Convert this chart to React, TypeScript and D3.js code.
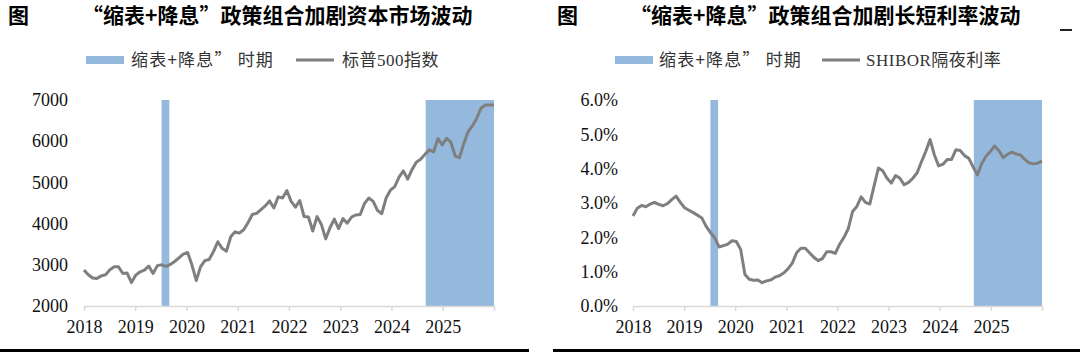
import React, { useRef, useEffect } from 'react';
import * as d3 from 'd3';

// x-axis year labels (a tick is also drawn at the right end, 2026, without label)
const yearLabels = ['2018', '2019', '2020', '2021', '2022', '2023', '2024', '2025'];

// S&P 500 monthly, Jan 2018 .. Dec 2025
const spxValues = [
    2870, 2760, 2680, 2670, 2730, 2760, 2880, 2950, 2950, 2790, 2800, 2570,
    2750, 2830, 2870, 2970, 2790, 2980, 3000, 2960, 3010, 3080, 3170, 3260,
    3300, 3000, 2620, 2950, 3100, 3130, 3320, 3560, 3400, 3330, 3680, 3800,
    3770, 3850, 4020, 4220, 4250, 4340, 4430, 4550, 4380, 4650, 4620, 4800,
    4540, 4400, 4560, 4170, 4160, 3820, 4170, 3980, 3630, 3900, 4110, 3880,
    4120, 4010, 4160, 4210, 4220, 4490, 4620, 4540, 4320, 4240, 4620, 4810,
    4900, 5130, 5280, 5080, 5310, 5490, 5560, 5680, 5790, 5740, 6060, 5910,
    6070, 5980, 5640, 5600, 5940, 6230, 6370, 6560, 6800, 6880, 6880, 6880,
];

// SHIBOR overnight (%), Jan 2018 .. Dec 2025
const shiborValues = [
    2.62, 2.85, 2.93, 2.89, 2.97, 3.02, 2.96, 2.92, 2.98, 3.1, 3.2, 3.02,
    2.86, 2.79, 2.72, 2.64, 2.56, 2.32, 2.14, 1.98, 1.72, 1.76, 1.8, 1.9,
    1.88, 1.65, 0.92, 0.78, 0.75, 0.76, 0.68, 0.73, 0.76, 0.84, 0.88, 0.96,
    1.08, 1.25, 1.55, 1.68, 1.68, 1.55, 1.42, 1.32, 1.38, 1.58, 1.58, 1.53,
    1.8, 2.0, 2.25, 2.75, 2.9, 3.18, 3.02, 2.97, 3.5, 4.02, 3.94, 3.72,
    3.58, 3.8, 3.72, 3.53, 3.6, 3.72, 3.88, 4.2, 4.5, 4.85, 4.4, 4.08,
    4.13, 4.27, 4.27, 4.55, 4.53, 4.38, 4.3, 4.05, 3.82, 4.15, 4.36, 4.5,
    4.66, 4.52, 4.32, 4.42, 4.48, 4.43, 4.4, 4.27, 4.17, 4.14, 4.16, 4.22,
];

// "缩表+降息" periods
const easingPeriods = [
    ['2019-07-08', '2019-09-01'],
    ['2024-09-01', '2026-01-01'],
];

const spxTicks = [2000, 3000, 4000, 5000, 6000, 7000];
const shiborTicks = [0, 1, 2, 3, 4, 5, 6];

const bandColor = '#95b9dd';
const lineColor = '#7f7f7f';
const axisColor = '#d9d9d9';
const latinFont = '"Liberation Serif", "Noto Sans CJK SC", serif';
const cjkFont = '"Noto Sans CJK SC", sans-serif';

const panels = [
    {
        x0: 84,
        x1: 494,
        labelRight: 68,
        title: '“缩表+降息”政策组合加剧资本市场波动',
        seriesName: '标普500指数',
        values: spxValues,
        yDomain: [2000, 7000],
        yTicks: spxTicks,
        fmt: (d: number) => String(d),
        legend: { rect: 86, text: 131, line: 296, text2: 342 },
        figX: 8,
        titleX: 82,
    },
    {
        x0: 633,
        x1: 1042,
        labelRight: 618,
        title: '“缩表+降息”政策组合加剧长短利率波动',
        seriesName: 'SHIBOR隔夜利率',
        values: shiborValues,
        yDomain: [0, 6],
        yTicks: shiborTicks,
        fmt: (d: number) => d.toFixed(1) + '%',
        legend: { rect: 615, text: 659, line: 822, text2: 866 },
        figX: 557,
        titleX: 630,
    },
];

const App: React.FC = () => {
    const svgRef = useRef<SVGSVGElement | null>(null);

    useEffect(() => {
        if (!svgRef.current) return;
        const svg = d3.select(svgRef.current);
        svg.selectAll('*').remove();

        const top = 100;
        const bottom = 306;
        const parse = d3.timeParse('%Y-%m-%d');

        panels.forEach((p) => {
            const g = svg.append('g');

            const x = d3
                .scaleTime()
                .domain([new Date(2018, 0, 1), new Date(2026, 0, 1)])
                .range([p.x0, p.x1]);
            // data points spread evenly across the same span
            const xi = d3
                .scaleLinear()
                .domain([0, p.values.length - 1])
                .range([p.x0, p.x1]);
            const y = d3.scaleLinear().domain(p.yDomain).range([bottom, top]);

            // title
            g.append('text')
                .attr('x', p.figX)
                .attr('y', 23)
                .attr('font-family', cjkFont)
                .attr('font-weight', 700)
                .attr('font-size', 21)
                .text('图');
            g.append('text')
                .attr('x', p.titleX)
                .attr('y', 23)
                .attr('font-family', cjkFont)
                .attr('font-weight', 700)
                .attr('font-size', 21)
                .text(p.title);

            // legend
            g.append('rect')
                .attr('x', p.legend.rect)
                .attr('y', 56)
                .attr('width', 38)
                .attr('height', 8)
                .attr('fill', bandColor);
            g.append('text')
                .attr('x', p.legend.text)
                .attr('y', 66)
                .attr('font-family', cjkFont)
                .attr('font-size', 17)
                .attr('letter-spacing', 1.2)
                .attr('fill', '#333')
                .text('缩表+降息” 时期');
            g.append('line')
                .attr('x1', p.legend.line)
                .attr('x2', p.legend.line + 38)
                .attr('y1', 60)
                .attr('y2', 60)
                .attr('stroke', lineColor)
                .attr('stroke-width', 3);
            g.append('text')
                .attr('x', p.legend.text2)
                .attr('y', 66)
                .attr('font-family', latinFont)
                .attr('font-size', 17)
                .attr('letter-spacing', 0.5)
                .attr('fill', '#333')
                .text(p.seriesName);

            // shaded periods
            g.selectAll('rect.band')
                .data(easingPeriods)
                .enter()
                .append('rect')
                .attr('class', 'band')
                .attr('x', (d) => x(parse(d[0])!))
                .attr('width', (d) => x(parse(d[1])!) - x(parse(d[0])!))
                .attr('y', top)
                .attr('height', bottom - top)
                .attr('fill', bandColor);

            // x axis
            const tickDates = yearLabels
                .map((yr) => new Date(+yr, 0, 1))
                .concat([new Date(2026, 0, 1)]);
            const xAxis = g
                .append('g')
                .attr('transform', `translate(0,${bottom})`)
                .call(
                    d3
                        .axisBottom(x)
                        .tickValues(tickDates)
                        .tickSize(5)
                        .tickSizeOuter(0)
                        .tickPadding(9)
                        .tickFormat((d) => {
                            const yr = (d as Date).getFullYear();
                            return yr < 2026 ? String(yr) : '';
                        }),
                );
            xAxis.select('.domain').attr('stroke', axisColor).attr('stroke-width', 1.5);
            xAxis.selectAll('.tick line').attr('stroke', axisColor).attr('stroke-width', 1.5);
            xAxis
                .selectAll('.tick text')
                .attr('font-family', latinFont)
                .attr('font-size', 18)
                .attr('fill', '#111');

            // y axis labels
            const yAxis = g
                .append('g')
                .attr('transform', `translate(${p.labelRight},0)`)
                .call(
                    d3
                        .axisLeft(y)
                        .tickValues(p.yTicks)
                        .tickSize(0)
                        .tickPadding(0)
                        .tickFormat((d) => p.fmt(d as number)),
                );
            yAxis.select('.domain').remove();
            yAxis
                .selectAll('.tick text')
                .attr('font-family', latinFont)
                .attr('font-size', 18)
                .attr('fill', '#111');

            // series line
            const line = d3
                .line<number>()
                .x((_, i) => xi(i))
                .y((d) => y(d));
            g.append('path')
                .datum(p.values)
                .attr('d', line)
                .attr('fill', 'none')
                .attr('stroke', lineColor)
                .attr('stroke-width', 3)
                .attr('stroke-linejoin', 'round');
        });

        // bottom rules and the stray mark top right
        svg.append('rect').attr('x', 0).attr('y', 349).attr('width', 529).attr('height', 3).attr('fill', '#000');
        svg.append('rect').attr('x', 553).attr('y', 349).attr('width', 527).attr('height', 3).attr('fill', '#000');
        svg.append('rect').attr('x', 1060).attr('y', 29).attr('width', 12).attr('height', 2).attr('fill', '#222');
    }, []);

    return (
        <svg
            ref={svgRef}
            width={1080}
            height={353}
            style={{ position: 'absolute', left: 0, top: 0, background: '#fff' }}
        ></svg>
    );
};

export default App;
